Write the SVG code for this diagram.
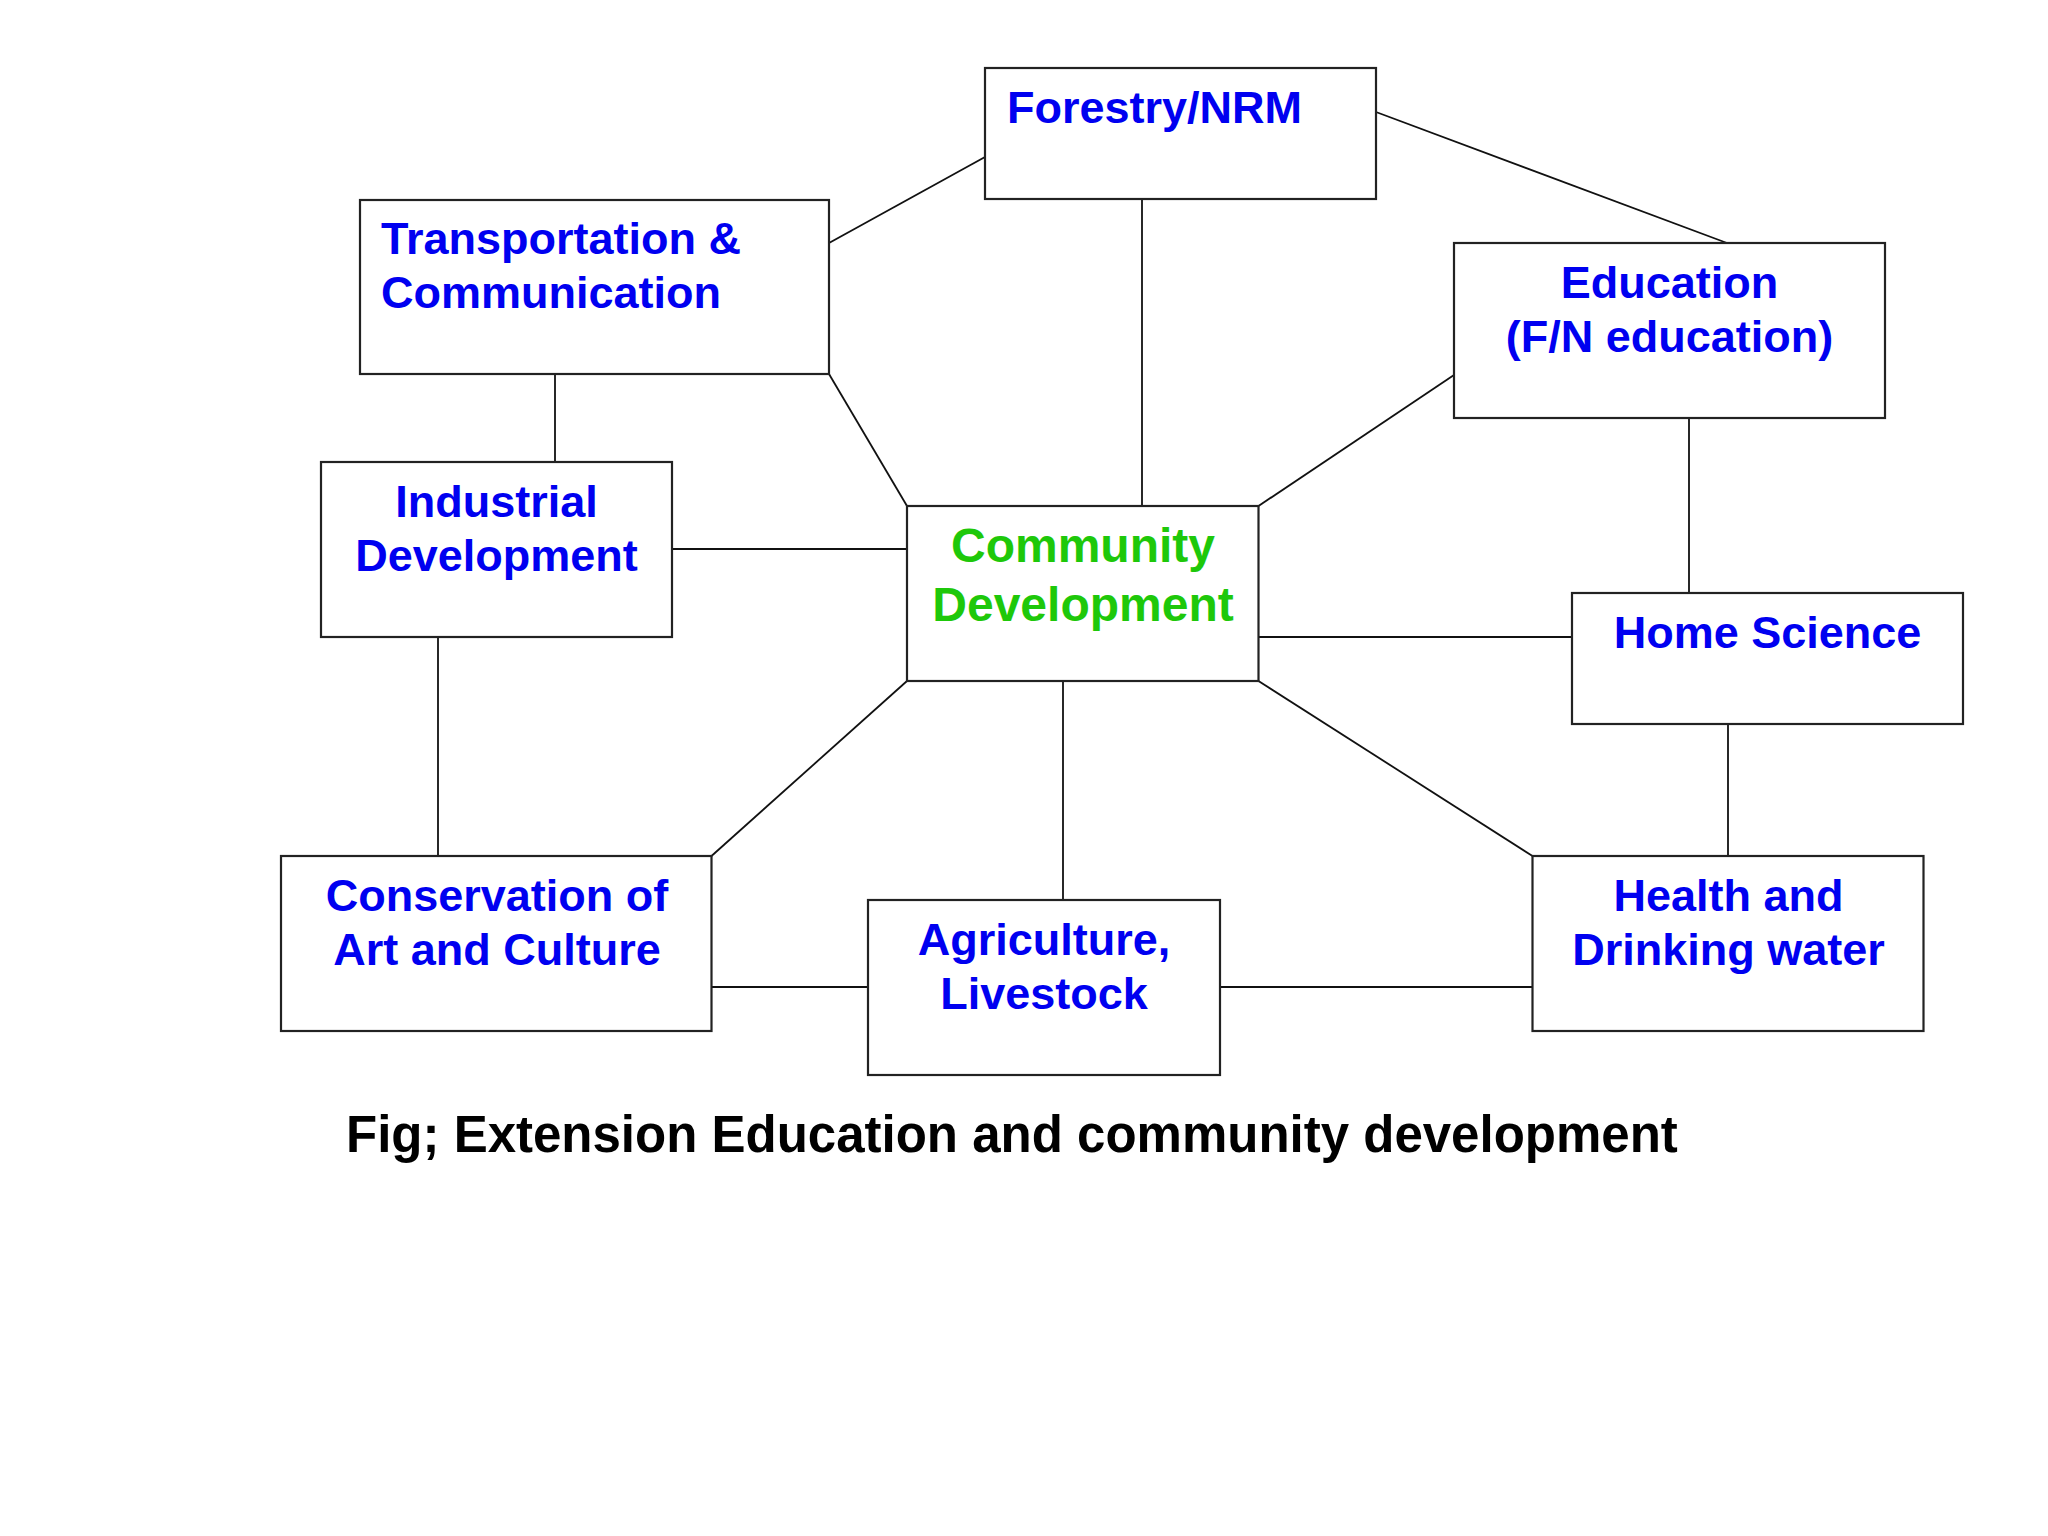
<svg xmlns="http://www.w3.org/2000/svg" width="2048" height="1536" viewBox="0 0 2048 1536">
<style>
.box{fill:#ffffff;stroke:#222222;stroke-width:2.2}
.lbl{font-family:"Liberation Sans",Arial,sans-serif;font-weight:bold;font-size:45px;fill:#0000f0}
.mid{text-anchor:middle}
.cd{fill:#1ec80a;font-size:48px}
.cap{font-family:"Liberation Sans",Arial,sans-serif;font-weight:bold;font-size:51px;fill:#000000}
#connectors line{stroke:#111111;stroke-width:1.8}
</style>
<rect width="2048" height="1536" fill="#ffffff"/>
<g id="connectors">
<line x1="829" y1="243" x2="985" y2="157"/>
<line x1="1376" y1="112" x2="1727" y2="243"/>
<line x1="1142" y1="199" x2="1142" y2="506"/>
<line x1="555" y1="374" x2="555" y2="462"/>
<line x1="829" y1="374" x2="907" y2="506"/>
<line x1="1454" y1="375" x2="1258.5" y2="506"/>
<line x1="672" y1="549" x2="907" y2="549"/>
<line x1="1258.5" y1="637" x2="1572" y2="637"/>
<line x1="1689" y1="418" x2="1689" y2="593"/>
<line x1="438" y1="637" x2="438" y2="856"/>
<line x1="907" y1="681" x2="711.5" y2="856"/>
<line x1="1063" y1="681" x2="1063" y2="900"/>
<line x1="1258.5" y1="681" x2="1532.5" y2="856"/>
<line x1="1728" y1="724" x2="1728" y2="856"/>
<line x1="711.5" y1="987" x2="868" y2="987"/>
<line x1="1220" y1="987" x2="1532.5" y2="987"/>
</g>
<g id="forestry">
<rect class="box" x="985" y="68" width="391" height="131"/>
<text class="lbl" x="1007" y="123">Forestry/NRM</text>
</g>
<g id="transport">
<rect class="box" x="360" y="200" width="469" height="174"/>
<text class="lbl" x="381" y="254">Transportation &amp;</text>
<text class="lbl" x="381" y="308">Communication</text>
</g>
<g id="education">
<rect class="box" x="1454" y="243" width="431" height="175"/>
<text class="lbl mid" x="1669.5" y="298">Education</text>
<text class="lbl mid" x="1669.5" y="352">(F/N education)</text>
</g>
<g id="industrial">
<rect class="box" x="321" y="462" width="351" height="175"/>
<text class="lbl mid" x="496.5" y="517">Industrial</text>
<text class="lbl mid" x="496.5" y="571">Development</text>
</g>
<g id="community">
<rect class="box" x="907" y="506" width="351.5" height="175"/>
<text class="lbl mid cd" x="1083" y="562">Community</text>
<text class="lbl mid cd" x="1083" y="621">Development</text>
</g>
<g id="homescience">
<rect class="box" x="1572" y="593" width="391" height="131"/>
<text class="lbl mid" x="1767.5" y="648">Home Science</text>
</g>
<g id="conservation">
<rect class="box" x="281" y="856" width="430.5" height="175"/>
<text class="lbl mid" x="497" y="911">Conservation of</text>
<text class="lbl mid" x="497" y="965">Art and Culture</text>
</g>
<g id="agriculture">
<rect class="box" x="868" y="900" width="352" height="175"/>
<text class="lbl mid" x="1044" y="955">Agriculture,</text>
<text class="lbl mid" x="1044" y="1009">Livestock</text>
</g>
<g id="health">
<rect class="box" x="1532.5" y="856" width="391" height="175"/>
<text class="lbl mid" x="1728.5" y="911">Health and</text>
<text class="lbl mid" x="1728.5" y="965">Drinking water</text>
</g>
<text class="cap" x="346" y="1152">Fig; Extension Education and community development</text>
</svg>
